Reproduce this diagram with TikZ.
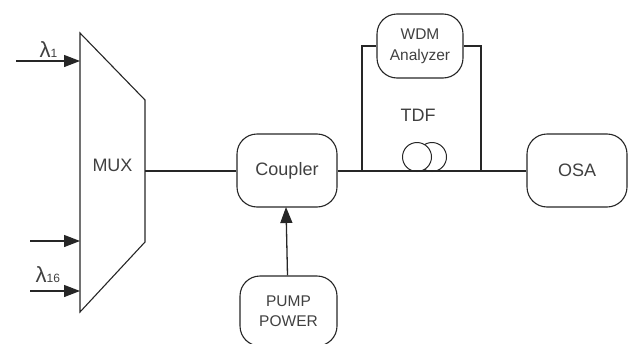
\documentclass[tikz,border=0pt]{standalone}
\usepackage{fontspec}
\setmainfont{Liberation Sans}
\usetikzlibrary{arrows.meta}
\definecolor{ink}{gray}{0.15}
\definecolor{txt}{gray}{0.25}
\tikzset{
 x=1pt,y=-1pt,
 box/.style={draw=ink,line width=1.1pt,rounded corners=20pt,inner sep=0pt,align=center,text=txt,font=\fontsize{18}{20}\selectfont},
 smallbox/.style={box,font=\fontsize{15.5}{19.5}\selectfont},
 wire/.style={draw=ink,line width=1.3pt},
 arrowwire/.style={wire,-{Triangle[length=16pt,width=12pt]}},
 lab/.style={inner sep=0pt,text=txt,font=\fontsize{18}{20}\selectfont},
 coil/.style={draw=ink,line width=1pt,circle,minimum size=29pt,inner sep=0pt,fill=white}
}
\begin{document}
\begin{tikzpicture}
\useasboundingbox (0,0) rectangle (629,343);
\begin{scope}
\clip (0,0) rectangle (629,343);
\node[box,minimum width=100pt,minimum height=73pt] (coupler) at (287,170.5) {Coupler};
\node[smallbox,minimum width=97pt,minimum height=70pt] (pump) at (288.5,311) {PUMP\\POWER};
\node[smallbox,minimum width=86pt,minimum height=64pt,font=\fontsize{15.5}{21}\selectfont] (wdm) at (420,46) {WDM\\Analyzer};
\node[box,minimum width=100pt,minimum height=73pt] (osa) at (577,170.5) {OSA};
\coordinate (muxtl) at (80,33);
\coordinate (muxtr) at (145,100);
\coordinate (muxbr) at (145,242);
\coordinate (muxbl) at (80,312);
\draw[draw=ink,line width=1.1pt,line join=miter] (muxtl) -- (muxtr) -- (muxbr) -- (muxbl) -- cycle;
\node[lab] (mux) at (112.5,165.5) {MUX};
\coordinate (muxout) at (145,171);
\coordinate (in1) at (16,61);
\coordinate (in1e) at (80,61);
\coordinate (in2) at (30,241);
\coordinate (in2e) at (80,241);
\coordinate (in3) at (30,291);
\coordinate (in3e) at (80,291);
\draw[arrowwire] (in1) -- (in1e);
\draw[arrowwire] (in2) -- (in2e);
\draw[arrowwire] (in3) -- (in3e);
\node[lab,anchor=base west] (l1) at (39.5,57) {{\fontsize{22}{22}\selectfont λ}{\fontsize{12}{12}\selectfont 1}};
\node[lab,anchor=base west] (l16) at (35.5,282) {{\fontsize{22}{22}\selectfont λ}{\fontsize{12}{12}\selectfont 16}};
\draw[wire] (muxout) -- (coupler.west |- muxout);
\draw[wire] (coupler.east |- muxout) -- (osa.west |- muxout);
\draw[arrowwire] (pump.north -| 287.5,0) -- (286,207);
\coordinate (ltop) at (362,46);
\coordinate (lbot) at (362,171);
\coordinate (rtop) at (481,46);
\coordinate (rbot) at (481,171);
\draw[wire] (lbot) -- (ltop) -- (wdm.west);
\draw[wire] (rbot) -- (rtop) -- (wdm.east);
\node[lab] (tdf) at (418,115) {TDF};
\node[coil] (coil2) at (432,157) {};
\node[coil] (coil1) at (417,157) {};
\draw[wire] (lbot) -- (rbot);
\end{scope}
\end{tikzpicture}
\end{document}
